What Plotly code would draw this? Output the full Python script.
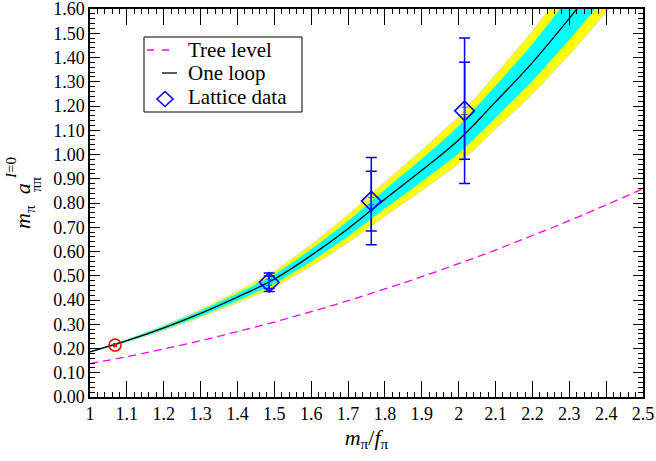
import plotly.graph_objects as go

# ---- data ----
x_grid = [1.0, 1.1, 1.2, 1.3, 1.4, 1.5, 1.6, 1.7, 1.8, 1.9, 2.0, 2.1, 2.2, 2.3, 2.4, 2.5]
tree_level = [0.138, 0.166, 0.198, 0.232, 0.270, 0.309, 0.352, 0.397, 0.446, 0.496,
              0.550, 0.606, 0.666, 0.727, 0.792, 0.859]
one_loop = [0.186, 0.232, 0.285, 0.345, 0.412, 0.486, 0.584, 0.694, 0.816, 0.935,
            1.060, 1.217, 1.379, 1.561, 1.757, 1.970]
band_inner = [0.000, 0.003, 0.006, 0.010, 0.014, 0.018, 0.024, 0.031, 0.038, 0.046,
              0.055, 0.065, 0.075, 0.087, 0.100, 0.115]
band_outer = [0.002, 0.005, 0.010, 0.016, 0.024, 0.033, 0.045, 0.058, 0.071, 0.084,
              0.098, 0.113, 0.130, 0.150, 0.170, 0.190]

lat_x = [1.486, 1.763, 2.016]
lat_y = [0.473, 0.808, 1.180]
lat_err_outer = [0.038, 0.180, 0.300]
lat_err_inner = [0.026, 0.123, 0.200]
lat_err_small = [0.012, 0.015, 0.015]

phys_x = [1.068]
phys_y = [0.214]
phys_err = [0.005]

x_ticks = [round(1.0 + 0.1 * i, 1) for i in range(16)]
y_ticks = [round(0.1 * i, 1) for i in range(17)]

legend_labels = ["Tree level", "One loop", "Lattice data"]

FONT = "Liberation Serif, Times New Roman, serif"

def band(center, half):
    up = [c + h for c, h in zip(center, half)]
    lo = [c - h for c, h in zip(center, half)]
    return x_grid + x_grid[::-1], up + lo[::-1]

fig = go.Figure()

bx, by = band(one_loop, band_outer)
fig.add_trace(go.Scatter(x=bx, y=by, mode="lines", fill="toself",
                         fillcolor="#ffff00", line=dict(color="#d8d8d8", width=1, shape="spline", smoothing=0.5),
                         showlegend=False, hoverinfo="skip"))
bx, by = band(one_loop, band_inner)
fig.add_trace(go.Scatter(x=bx, y=by, mode="lines", fill="toself",
                         fillcolor="#00ffff", line=dict(color="#00ffff", width=0.5, shape="spline", smoothing=0.5),
                         showlegend=False, hoverinfo="skip"))

fig.add_trace(go.Scatter(x=x_grid, y=tree_level, mode="lines", name=legend_labels[0],
                         line=dict(color="#ff00ff", width=1.3, dash="8px,5px", shape="spline"),
                         showlegend=False))
fig.add_trace(go.Scatter(x=x_grid, y=one_loop, mode="lines", name=legend_labels[1],
                         line=dict(color="black", width=1.3, shape="spline"),
                         showlegend=False))

# error bars
for errs in (lat_err_outer, lat_err_inner):
    fig.add_trace(go.Scatter(x=lat_x, y=lat_y, mode="markers",
                             marker=dict(size=1, color="rgba(0,0,0,0)"),
                             error_y=dict(type="data", array=errs, color="#0000ff",
                                          thickness=1.5, width=5.5),
                             showlegend=False, hoverinfo="skip"))
fig.add_trace(go.Scatter(x=lat_x, y=lat_y, mode="markers",
                         marker=dict(size=1, color="rgba(0,0,0,0)"),
                         error_y=dict(type="data", array=lat_err_small, color="#4040ff",
                                      thickness=1, width=3),
                         showlegend=False, hoverinfo="skip"))
fig.add_trace(go.Scatter(x=lat_x, y=lat_y, mode="markers", name=legend_labels[2],
                         marker=dict(symbol="diamond-open", size=15, color="#0000ff",
                                     line=dict(width=1.6, color="#0000ff")),
                         showlegend=False))

fig.add_trace(go.Scatter(x=phys_x, y=phys_y, mode="markers",
                         marker=dict(symbol="circle-open", size=12, color="#ff0000",
                                     line=dict(width=1.5, color="#ff0000")),
                         error_y=dict(type="data", array=phys_err, color="#ff0000",
                                      thickness=2, width=2),
                         showlegend=False))

axis_common = dict(showgrid=False, zeroline=False, showline=True, linecolor="black",
                   linewidth=1.5, mirror="allticks", ticks="inside", tickcolor="black",
                   tickwidth=1, automargin=False, ticklabeloverflow="allow",
                   tickfont=dict(family=FONT, size=18, color="black"))

fig.update_xaxes(range=[1, 2.5], tickvals=x_ticks,
                 ticktext=[("%g" % v) for v in x_ticks], ticklen=16,
                 minor=dict(dtick=0.02, ticklen=5, ticks="inside", tickcolor="black", tickwidth=1),
                 title=dict(text="<i>m</i><sub>π</sub>/<i>f</i><sub>π</sub>",
                            font=dict(family=FONT, size=22, color="black"), standoff=6),
                 **axis_common)
fig.update_yaxes(range=[0, 1.6], tickvals=y_ticks,
                 ticktext=["%.2f" % v for v in y_ticks], ticklen=10,
                 minor=dict(dtick=0.02, ticklen=5, ticks="inside", tickcolor="black", tickwidth=1),
                 **axis_common)

L, R, T, B = 90, 13, 9, 64
PW, PH = 656 - L - R, 461 - T - B
def px(xp):
    return (xp - L) / PW
def py(yp):
    return (461 - B - yp) / PH

# y-axis title assembled from stacked pieces
fig.add_annotation(text="<i>m</i><sub>π</sub>  <i>a</i>", xref="paper", yref="paper",
                   x=px(24), y=py(206), xanchor="center", yanchor="middle", textangle=-90,
                   showarrow=False, font=dict(family=FONT, size=22, color="black"))
fig.add_annotation(text="<i>I</i>=0", xref="paper", yref="paper",
                   x=px(11), y=py(168), xanchor="center", yanchor="middle", textangle=-90,
                   showarrow=False, font=dict(family=FONT, size=15, color="black"))
fig.add_annotation(text="ππ", xref="paper", yref="paper",
                   x=px(36), y=py(184), xanchor="center", yanchor="middle", textangle=-90,
                   showarrow=False, font=dict(family=FONT, size=15, color="black"))

# legend box drawn by hand (tight row spacing as in the reference)
fig.add_shape(type="rect", xref="paper", yref="paper",
              x0=px(144), x1=px(302), y0=py(112), y1=py(37),
              line=dict(color="black", width=1), fillcolor="white", layer="above")
fig.add_shape(type="line", xref="paper", yref="paper",
              x0=px(147), x1=px(172), y0=py(50), y1=py(50),
              line=dict(color="#ff00ff", width=1.3, dash="7px,8px"), layer="above")
fig.add_shape(type="line", xref="paper", yref="paper",
              x0=px(162), x1=px(177), y0=py(73), y1=py(73),
              line=dict(color="black", width=1.3), layer="above")
fig.add_shape(type="path", xref="paper", yref="paper",
              path="M {a},{b} L {c},{d} L {a},{e} L {f},{d} Z".format(
                  a=px(165), b=py(91.5), c=px(173), d=py(99), e=py(106.5), f=px(157)),
              line=dict(color="#0000ff", width=1.6), layer="above")
for lbl, yc in zip(legend_labels, [50, 73, 97]):
    fig.add_annotation(text=lbl, xref="paper", yref="paper", x=px(186), y=py(yc),
                       xanchor="left", yanchor="middle", showarrow=False,
                       font=dict(family=FONT, size=21, color="black"))

fig.update_layout(
    width=656, height=461,
    margin=dict(l=L, r=R, t=T, b=B),
    plot_bgcolor="white", paper_bgcolor="white",
    font=dict(family=FONT, color="black"),
    showlegend=False,
)

fig.write_html("out.html")
